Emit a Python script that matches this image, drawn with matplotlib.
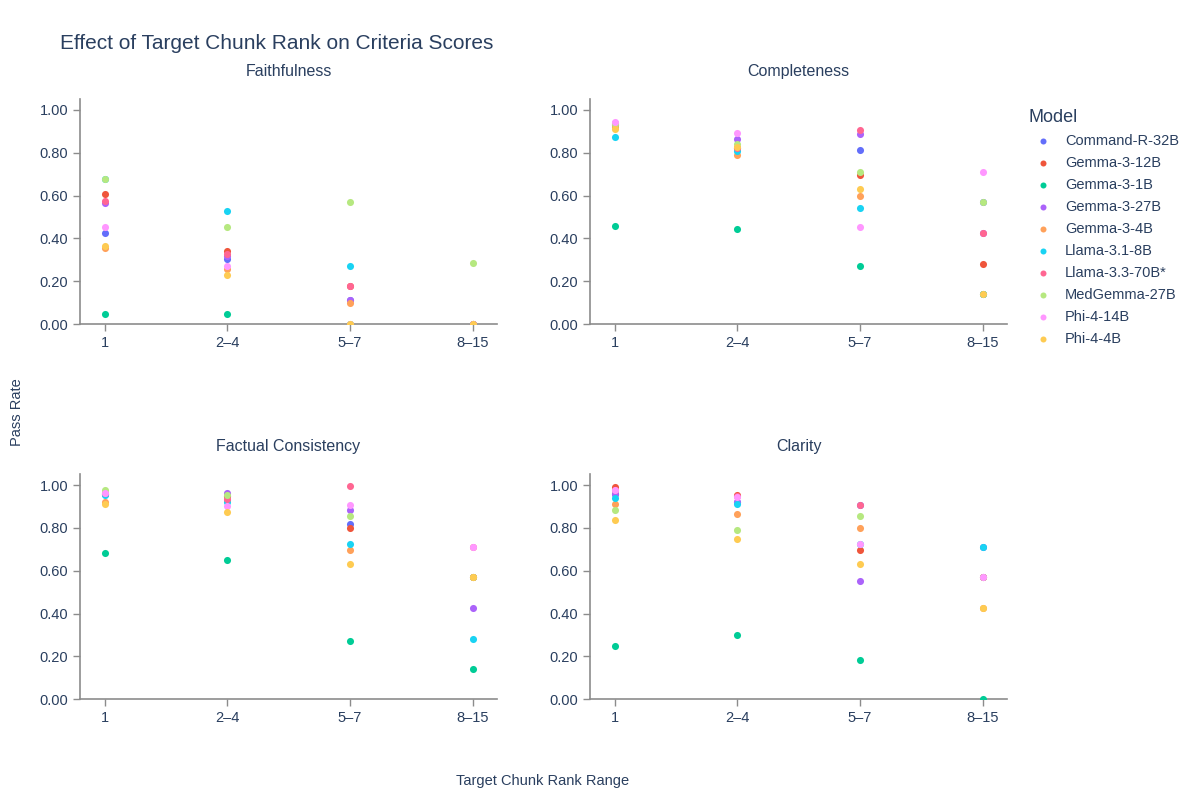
import matplotlib.pyplot as plt

plt.rcParams['font.family'] = ['Liberation Sans', 'DejaVu Sans']

ranks = ['1', '2–4', '5–7', '8–15']
models = ['Command-R-32B', 'Gemma-3-12B', 'Gemma-3-1B', 'Gemma-3-27B', 'Gemma-3-4B',
          'Llama-3.1-8B', 'Llama-3.3-70B*', 'MedGemma-27B', 'Phi-4-14B', 'Phi-4-4B']
colors = ['#636EFA', '#EF553B', '#00CC96', '#AB63FA', '#FFA15A',
          '#19D3F3', '#FF6692', '#B6E880', '#FF97FF', '#FECB52']
criteria = ['Faithfulness', 'Completeness', 'Factual Consistency', 'Clarity']

# pass rate per model, per rank range (1, 2-4, 5-7, 8-15)
faithfulness = {
    'Command-R-32B':  [0.425, 0.305, 0.111, 0.0],
    'Gemma-3-12B':    [0.606, 0.340, 0.179, 0.0],
    'Gemma-3-1B':     [0.045, 0.045, 0.0, 0.0],
    'Gemma-3-27B':    [0.567, 0.318, 0.111, 0.0],
    'Gemma-3-4B':     [0.357, 0.256, 0.097, 0.0],
    'Llama-3.1-8B':   [0.676, 0.527, 0.270, 0.0],
    'Llama-3.3-70B*': [0.576, 0.326, 0.179, 0.0],
    'MedGemma-27B':   [0.676, 0.453, 0.569, 0.283],
    'Phi-4-14B':      [0.453, 0.271, 0.0, 0.0],
    'Phi-4-4B':       [0.362, 0.230, 0.0, 0.0],
}
completeness = {
    'Command-R-32B':  [0.930, 0.820, 0.815, 0.571],
    'Gemma-3-12B':    [0.930, 0.820, 0.696, 0.282],
    'Gemma-3-1B':     [0.458, 0.445, 0.270, 0.139],
    'Gemma-3-27B':    [0.935, 0.863, 0.886, 0.425],
    'Gemma-3-4B':     [0.920, 0.788, 0.597, 0.139],
    'Llama-3.1-8B':   [0.872, 0.807, 0.542, 0.139],
    'Llama-3.3-70B*': [0.940, 0.820, 0.907, 0.425],
    'MedGemma-27B':   [0.935, 0.840, 0.712, 0.569],
    'Phi-4-14B':      [0.942, 0.894, 0.452, 0.712],
    'Phi-4-4B':       [0.911, 0.829, 0.632, 0.139],
}
factual = {
    'Command-R-32B':  [0.960, 0.950, 0.818, 0.571],
    'Gemma-3-12B':    [0.960, 0.950, 0.798, 0.571],
    'Gemma-3-1B':     [0.681, 0.651, 0.270, 0.139],
    'Gemma-3-27B':    [0.960, 0.961, 0.886, 0.425],
    'Gemma-3-4B':     [0.922, 0.930, 0.696, 0.571],
    'Llama-3.1-8B':   [0.952, 0.920, 0.724, 0.282],
    'Llama-3.3-70B*': [0.964, 0.933, 0.997, 0.712],
    'MedGemma-27B':   [0.977, 0.953, 0.855, 0.571],
    'Phi-4-14B':      [0.964, 0.903, 0.907, 0.712],
    'Phi-4-4B':       [0.911, 0.874, 0.632, 0.569],
}
clarity = {
    'Command-R-32B':  [0.958, 0.920, 0.907, 0.712],
    'Gemma-3-12B':    [0.989, 0.955, 0.696, 0.569],
    'Gemma-3-1B':     [0.248, 0.299, 0.182, 0.0],
    'Gemma-3-27B':    [0.960, 0.920, 0.553, 0.569],
    'Gemma-3-4B':     [0.913, 0.864, 0.798, 0.425],
    'Llama-3.1-8B':   [0.939, 0.913, 0.724, 0.712],
    'Llama-3.3-70B*': [0.977, 0.950, 0.907, 0.569],
    'MedGemma-27B':   [0.882, 0.791, 0.855, 0.569],
    'Phi-4-14B':      [0.977, 0.943, 0.724, 0.569],
    'Phi-4-4B':       [0.836, 0.746, 0.632, 0.425],
}
scores = [faithfulness, completeness, factual, clarity]

text_c = '#2a3f5f'
axis_c = '#8c8c8c'

fig = plt.figure(figsize=(12, 8), dpi=100)
lefts = [0.0667, 0.4917, 0.0667, 0.4917]
bottoms = [0.595, 0.595, 0.126, 0.126]
w, h = 0.3475, 0.281

for i in range(4):
    ax = fig.add_axes([lefts[i], bottoms[i], w, h])
    for m, c in zip(models, colors):
        ax.scatter(range(len(ranks)), scores[i][m], s=26, color=c, linewidths=0,
                   zorder=3, label=m)
    ax.set_xlim(-0.2, 3.2)
    ax.set_ylim(0, 1.05)
    ax.set_xticks(range(len(ranks)))
    ax.set_xticklabels(ranks)
    ax.set_yticks([0, 0.2, 0.4, 0.6, 0.8, 1.0])
    ax.set_yticklabels(['%.2f' % v for v in [0, 0.2, 0.4, 0.6, 0.8, 1.0]])
    ax.tick_params(colors=axis_c, labelcolor=text_c, labelsize=10.5, length=5, width=1)
    for s in ['top', 'right']:
        ax.spines[s].set_visible(False)
    for s in ['left', 'bottom']:
        ax.spines[s].set_color(axis_c)
        ax.spines[s].set_linewidth(1.2)
    ax.set_title(criteria[i], fontsize=11.5, color=text_c, pad=17)
    if i == 1:
        leg = ax.legend(loc='upper left', bbox_to_anchor=(1.02, 1.015), frameon=False,
                        title='Model', fontsize=10.5, title_fontsize=13,
                        handletextpad=0.5, labelspacing=0.55, markerscale=0.85,
                        alignment='left')
        leg.get_title().set_color(text_c)
        for t in leg.get_texts():
            t.set_color(text_c)

fig.text(0.05, 0.946, 'Effect of Target Chunk Rank on Criteria Scores', fontsize=15,
         color=text_c, va='center')
fig.text(0.014, 0.485, 'Pass Rate', rotation=90, fontsize=10.5, color=text_c,
         va='center', ha='center')
fig.text(0.4525, 0.024, 'Target Chunk Rank Range', fontsize=10.5, color=text_c,
         va='center', ha='center')

fig.savefig('out.png', dpi=100)
